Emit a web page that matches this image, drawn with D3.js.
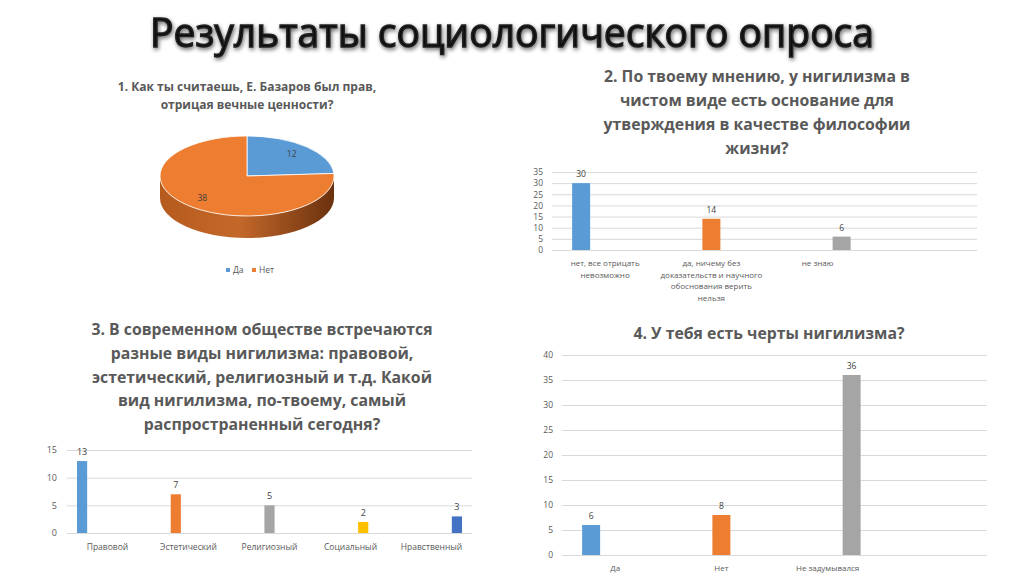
<!DOCTYPE html>
<html>
<head>
<meta charset="utf-8">
<script src="https://cdn.jsdelivr.net/npm/d3@7/dist/d3.min.js"></script>
<style>
    body { margin: 0; background: #fff; }
    text { font-family: "Open Sans", "Noto Sans", sans-serif; }
</style>
</head>
<body>
<svg id="chart" width="1024" height="574"></svg>
<script>
// ---- data ----
const pieLabels = ["Да", "Нет"];
const pieValues = [12, 38];

const q2Categories = ["нет, все отрицать\nневозможно", "да, ничему без\nдоказательств и научного\nобоснования верить\nнельзя", "не знаю"];
const q2Values = [30, 14, 6];
const q2Ticks = [0, 5, 10, 15, 20, 25, 30, 35];

const q3Categories = ["Правовой", "Эстетический", "Религиозный", "Социальный", "Нравственный"];
const q3Values = [13, 7, 5, 2, 3];
const q3Ticks = [0, 5, 10, 15];

const q4Categories = ["Да", "Нет", "Не задумывался"];
const q4Values = [6, 8, 36];
const q4Ticks = [0, 5, 10, 15, 20, 25, 30, 35, 40];

const palette = ["#5B9BD5", "#ED7D31", "#A5A5A5", "#FFC000", "#4472C4"];
const textGray = "#595959";

const svg = d3.select("#chart");
svg.append("rect").attr("width", 1024).attr("height", 574).attr("fill", "#fff");

let defs = svg.append("defs");
let shadow = defs.append("filter").attr("id", "glow")
    .attr("x", "-10%").attr("y", "-30%").attr("width", "120%").attr("height", "160%");
shadow.append("feGaussianBlur").attr("in", "SourceAlpha").attr("stdDeviation", 2).attr("result", "b");
shadow.append("feOffset").attr("in", "b").attr("dx", 1).attr("dy", 2).attr("result", "o");
shadow.append("feComponentTransfer").attr("in", "o").attr("result", "s")
    .append("feFuncA").attr("type", "linear").attr("slope", 0.6);
let merge = shadow.append("feMerge");
merge.append("feMergeNode").attr("in", "s");
merge.append("feMergeNode").attr("in", "SourceGraphic");

let sideGrad = defs.append("linearGradient").attr("id", "sideGrad")
    .attr("x1", "0%").attr("x2", "100%").attr("y1", "0%").attr("y2", "0%");
sideGrad.append("stop").attr("offset", "0%").attr("stop-color", "#B65B1E");
sideGrad.append("stop").attr("offset", "45%").attr("stop-color", "#C4682A");
sideGrad.append("stop").attr("offset", "100%").attr("stop-color", "#6A310E");

// main title
svg.append("text")
    .attr("x", 512).attr("y", 47)
    .attr("text-anchor", "middle")
    .attr("font-size", 40)
    .attr("textLength", 724).attr("lengthAdjust", "spacingAndGlyphs")
    .attr("fill", "#111")
    .attr("stroke", "#222").attr("stroke-width", 1.4)
    .attr("filter", "url(#glow)")
    .text("Результаты социологического опроса");

// multi-line centered title
function drawTitle(lines, cx, y0, lh, size) {
    let t = svg.append("text")
        .attr("text-anchor", "middle")
        .attr("font-size", size)
        .attr("font-weight", "bold")
        .attr("fill", textGray);
    lines.forEach((l, i) => {
        t.append("tspan").attr("x", cx).attr("y", y0 + i * lh).text(l);
    });
}

// ---- 1. pie ----
drawTitle(["1. Как ты считаешь, Е. Базаров был прав,", "отрицая вечные ценности?"], 247, 91, 18, 12);

let pc = {cx: 247, cy: 176, rx: 87, ry: 40, depth: 22};
let pt = (a, f) => [pc.cx + pc.rx * f * Math.sin(a), pc.cy - pc.ry * f * Math.cos(a)];
let arcs = d3.pie().sort(null)(pieValues);
let pieG = svg.append("g");

// sides first
arcs.forEach((d, i) => {
    let s = Math.max(d.startAngle, Math.PI / 2);
    let e = Math.min(d.endAngle, 3 * Math.PI / 2);
    if (e <= s) return;
    let p0 = pt(s, 1), p1 = pt(e, 1);
    let path = "M" + p0 + " A" + pc.rx + "," + pc.ry + " 0 0 1 " + p1 +
        " L" + p1[0] + "," + (p1[1] + pc.depth) +
        " A" + pc.rx + "," + pc.ry + " 0 0 0 " + p0[0] + "," + (p0[1] + pc.depth) + " Z";
    pieG.append("path").attr("d", path)
        .attr("fill", i == 1 ? "url(#sideGrad)" : d3.color(palette[i]).darker(1));
});
// top faces
arcs.forEach((d, i) => {
    let p0 = pt(d.startAngle, 1), p1 = pt(d.endAngle, 1);
    let large = d.endAngle - d.startAngle > Math.PI ? 1 : 0;
    let path = "M" + pc.cx + "," + pc.cy + " L" + p0 +
        " A" + pc.rx + "," + pc.ry + " 0 " + large + " 1 " + p1 + " Z";
    pieG.append("path").attr("d", path)
        .attr("fill", palette[i])
        .attr("stroke", "#fff").attr("stroke-width", 0.8);
});
// values
arcs.forEach((d, i) => {
    let m = pt((d.startAngle + d.endAngle) / 2, 0.75);
    pieG.append("text")
        .attr("x", m[0]).attr("y", m[1] + 3)
        .attr("text-anchor", "middle")
        .attr("font-size", 8.5).attr("fill", "#404040")
        .text(d.data);
});
// legend
let legX = d3.scalePoint().domain(pieLabels).range([228, 254]);
pieLabels.forEach((l, i) => {
    svg.append("rect").attr("x", legX(l) - 2).attr("y", 268)
        .attr("width", 4).attr("height", 4).attr("fill", palette[i]);
    svg.append("text").attr("x", legX(l) + 5).attr("y", 273)
        .attr("font-size", 8.5).attr("fill", textGray).text(l);
});

// ---- bar charts ----
function barChart(cfg) {
    let g = svg.append("g");
    let cats = cfg.categories.concat(cfg.extra ? [""] : []);
    let x = d3.scaleBand().domain(d3.range(cats.length)).range([cfg.x0, cfg.x1]);
    let sub = d3.scaleBand().domain(d3.range(cfg.values.length))
        .range([-cfg.cluster / 2, cfg.cluster / 2]).paddingInner(cfg.inner);
    let y = d3.scaleLinear().domain([0, d3.max(cfg.ticks)]).range([cfg.y0, cfg.y1]);

    // gridlines
    g.append("g")
        .attr("transform", "translate(" + cfg.x0 + ",0)")
        .call(d3.axisLeft(y).tickValues(cfg.ticks).tickSize(-(cfg.x1 - cfg.x0)).tickFormat(""))
        .call(a => a.select(".domain").remove())
        .call(a => a.selectAll("line").attr("stroke", "#D9D9D9"));

    // y labels
    g.append("g")
        .attr("transform", "translate(" + cfg.labelX + ",0)")
        .call(d3.axisLeft(y).tickValues(cfg.ticks).tickSize(0).tickPadding(0))
        .call(a => a.select(".domain").remove())
        .call(a => a.selectAll("text").attr("font-size", cfg.fs).attr("fill", textGray)
            .attr("font-family", "\"Open Sans\", sans-serif"));

    // bars
    cfg.values.forEach((v, i) => {
        let bx = x(i) + x.bandwidth() / 2 + sub(i);
        g.append("rect")
            .attr("x", bx).attr("y", y(v))
            .attr("width", sub.bandwidth()).attr("height", y(0) - y(v))
            .attr("fill", palette[i]);
        g.append("text")
            .attr("x", bx + sub.bandwidth() / 2).attr("y", y(v) - 6)
            .attr("text-anchor", "middle")
            .attr("font-size", cfg.fs).attr("fill", "#404040")
            .text(v);
    });

    // category labels
    cfg.categories.forEach((c, i) => {
        let t = g.append("text")
            .attr("text-anchor", "middle")
            .attr("font-size", cfg.fs - 0.5).attr("fill", textGray);
        c.split("\n").forEach((l, k) => {
            t.append("tspan")
                .attr("x", x(i) + x.bandwidth() / 2)
                .attr("y", cfg.catY + k * 11.7)
                .text(l);
        });
    });
}

// ---- 2 ----
drawTitle(["2. По твоему мнению, у нигилизма в", "чистом виде есть основание для",
    "утверждения в качестве философии", "жизни?"], 757, 82, 24, 15.8);
barChart({categories: q2Categories, values: q2Values, ticks: q2Ticks, extra: true,
    x0: 552, x1: 977, y0: 250, y1: 172, labelX: 543, cluster: 66, inner: 0.25,
    catY: 266, fs: 8.5});

// ---- 3 ----
drawTitle(["3. В современном обществе встречаются", "разные виды нигилизма: правовой,",
    "эстетический, религиозный и т.д. Какой", "вид нигилизма, по-твоему, самый",
    "распространенный сегодня?"], 262, 335, 23.8, 15.8);
barChart({categories: q3Categories, values: q3Values, ticks: q3Ticks, extra: false,
    x0: 67, x1: 472, y0: 533, y1: 450, labelX: 57, cluster: 61, inner: 0.2,
    catY: 550, fs: 9});

// ---- 4 ----
drawTitle(["4. У тебя есть черты нигилизма?"], 769, 339, 24, 15.8);
barChart({categories: q4Categories, values: q4Values, ticks: q4Ticks, extra: true,
    x0: 562, x1: 987, y0: 555, y1: 355, labelX: 553, cluster: 66, inner: 0.25,
    catY: 571, fs: 8.5});
</script>
</body>
</html>
